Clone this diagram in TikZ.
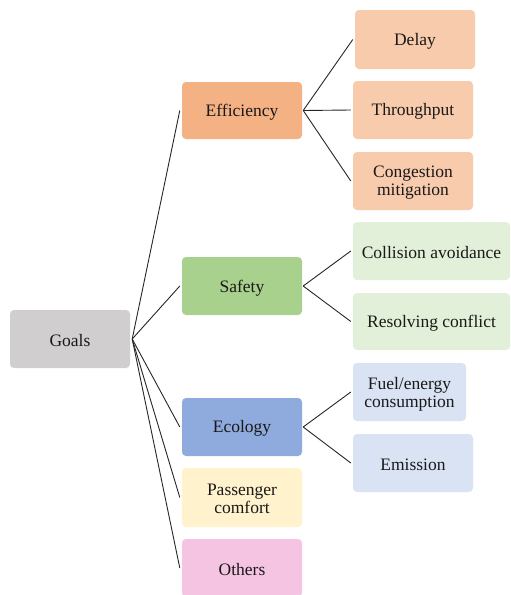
\documentclass[tikz,border=0pt]{standalone}
\usepackage{fontspec}
\setmainfont{Liberation Serif}
\definecolor{cGoal}{HTML}{D0CECE}
\definecolor{cEff}{HTML}{F4B183}
\definecolor{cEffL}{HTML}{F8CBAD}
\definecolor{cSaf}{HTML}{A9D18E}
\definecolor{cSafL}{HTML}{E2F0D9}
\definecolor{cEco}{HTML}{8FAADC}
\definecolor{cEcoL}{HTML}{DAE3F3}
\definecolor{cPas}{HTML}{FFF2CC}
\definecolor{cOth}{HTML}{F5C4E2}
\tikzset{
  box/.style={rounded corners=4pt, inner sep=0pt},
  txt/.style={inner sep=0pt, align=center,
    font=\fontsize{17.5}{18}\selectfont, text=black!90},
  link/.style={draw=black!85, line width=0.9pt},
}
% box with its caption set slightly below the geometric centre
\newcommand{\goalbox}[6]{%
  \node[box, fill=#3, minimum width=#4pt, minimum height=#5pt] (#2) at (#1) {};
  \node[txt] (#2-t) at ([yshift=-1.8pt]#2.center) {#6};
}
\begin{document}
\begin{tikzpicture}[x=1pt,y=-1pt]
\useasboundingbox (0,0) rectangle (511,595);
% root
\goalbox{70,339}{goals}{cGoal}{120}{58}{Goals}
% second level
\goalbox{242,110.5}{eff}{cEff}{120}{57}{Efficiency}
\goalbox{242,286}{saf}{cSaf}{120}{58}{Safety}
\goalbox{242,427}{eco}{cEco}{120}{58}{Ecology}
\goalbox{242,497.5}{pas}{cPas}{120}{59}{Passenger\\comfort}
\goalbox{242,568}{oth}{cOth}{120}{58}{Others}
% third level
\goalbox{415,39.5}{delay}{cEffL}{120}{59}{Delay}
\goalbox{413,110}{thr}{cEffL}{120}{58}{Throughput}
\goalbox{413,181}{cong}{cEffL}{120}{58}{Congestion\\mitigation}
\goalbox{431.5,251}{coll}{cSafL}{157}{58}{Collision avoidance}
\goalbox{431.5,321.5}{res}{cSafL}{157}{57}{Resolving conflict}
\goalbox{409.5,392}{fuel}{cEcoL}{113}{58}{Fuel/energy\\consumption}
\goalbox{413,463}{emi}{cEcoL}{120}{58}{Emission}
% connectors
\coordinate (g0) at ([xshift=2pt]goals.east);
\foreach \n in {eff,saf,eco,pas,oth} \draw[link] (g0) -- ([xshift=-2pt]\n.west);
\foreach \p/\c in {eff/delay,eff/thr,eff/cong,saf/coll,saf/res,eco/fuel,eco/emi}
  \draw[link] ([xshift=1pt]\p.east) -- ([xshift=-2pt]\c.west);
\end{tikzpicture}
\end{document}
